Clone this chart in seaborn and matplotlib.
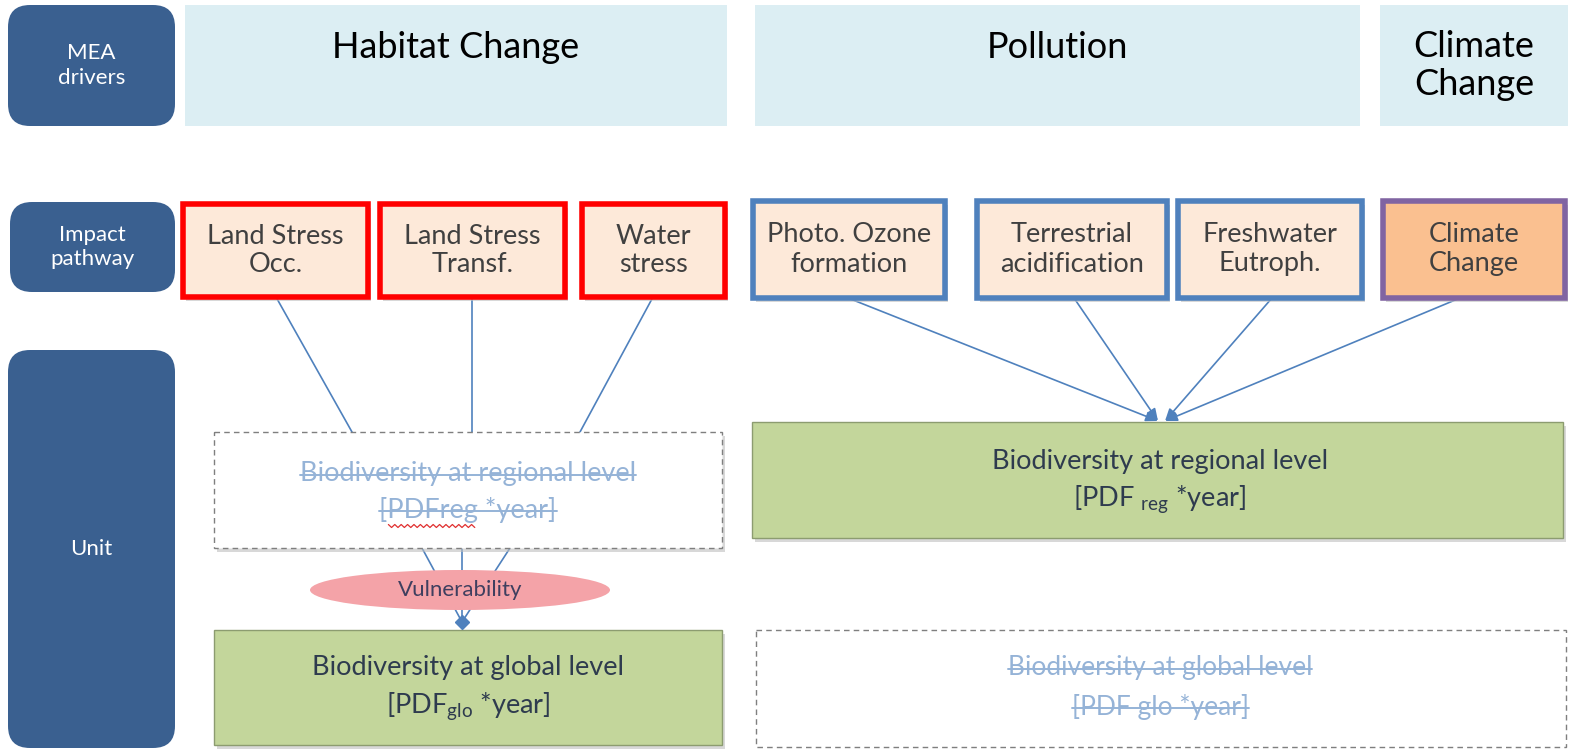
import matplotlib.pyplot as plt
import seaborn as sns
from matplotlib.patches import FancyBboxPatch, Rectangle, Ellipse

sns.set_theme(style="white")
plt.rcParams['font.family'] = ['Lato', 'DejaVu Sans']
plt.rcParams['mathtext.fontset'] = 'custom'
plt.rcParams['mathtext.rm'] = 'Lato'
plt.rcParams['mathtext.it'] = 'Lato'

# Texte
row_labels = ['MEA\ndrivers', 'Impact\npathway', 'Unit']
drivers = ['Habitat Change', 'Pollution', 'Climate\nChange']
habitat_paths = ['Land Stress\nOcc.', 'Land Stress\nTransf.', 'Water\nstress']
pollution_paths = ['Photo. Ozone\nformation', 'Terrestrial\nacidification', 'Freshwater\nEutroph.']
climate_paths = ['Climate\nChange']
unit_title_reg = 'Biodiversity at regional level'
unit_title_glo = 'Biodiversity at global level'
vuln_label = 'Vulnerability'

# Layout (Pixel, y nach unten)
row_boxes = [(8, 5, 167, 121), (10, 202, 165, 90), (8, 350, 167, 398)]
driver_boxes = [(185, 5, 542, 121), (755, 5, 605, 121), (1380, 5, 188, 121)]
habitat_boxes = [(183, 204, 185, 93), (380, 204, 185, 93), (582, 204, 143, 93)]
pollution_boxes = [(753, 201, 192, 97), (977, 201, 190, 97), (1178, 201, 184, 97)]
climate_boxes = [(1383, 201, 182, 97)]

c_dark = '#3A6090'
c_light = '#DCEEF3'
c_peach = '#FDE9D9'
c_orange = '#FAC090'
c_green = '#C3D69B'
c_line = '#4F81BD'
c_strike = '#95B3D7'
c_text = '#2E3B4E'

fig = plt.figure(figsize=(15.73, 7.54), dpi=100)
ax = fig.add_axes([0, 0, 1, 1])
ax.set_xlim(0, 1573)
ax.set_ylim(754, 0)
ax.axis('off')


def box(x, y, w, h, fc, ec='none', lw=0, ls='-', shadow=False, z=2):
    if shadow:
        ax.add_patch(Rectangle((x + 3, y + 4), w, h, fc='#BFBFBF', ec='none', alpha=0.6, zorder=z - 0.1))
    ax.add_patch(Rectangle((x, y), w, h, fc=fc, ec=ec, lw=lw, ls=ls, zorder=z))


def strike_text(x, y, s, size, color):
    t = ax.text(x, y, s, ha='center', va='center', fontsize=size, color=color, zorder=5)
    fig.canvas.draw()
    bb = t.get_window_extent().transformed(ax.transData.inverted())
    ym = (bb.y0 + bb.y1) / 2 + 1
    ax.plot([bb.x0, bb.x1], [ym, ym], color=color, lw=1.4, zorder=6)
    return bb


# linke Zeilenbeschriftungen
for (x, y, w, h), lab in zip(row_boxes, row_labels):
    ax.add_patch(FancyBboxPatch((x, y), w, h, boxstyle='round,pad=0,rounding_size=22',
                                fc=c_dark, ec='none', zorder=2))
    ax.text(x + w / 2, y + h / 2, lab, ha='center', va='center', color='white',
            fontsize=16, linespacing=1.3, zorder=3)

# MEA drivers
for (x, y, w, h), lab in zip(driver_boxes, drivers):
    box(x, y, w, h, c_light)
    ax.text(x + w / 2, y + 42 if '\n' not in lab else y + h / 2, lab, ha='center', va='center',
            fontsize=26, color='black', linespacing=1.2, zorder=3)

# Impact pathways
for boxes, labs, ec, fc in [(habitat_boxes, habitat_paths, '#FF0000', c_peach),
                            (pollution_boxes, pollution_paths, c_line, c_peach),
                            (climate_boxes, climate_paths, '#8064A2', c_orange)]:
    for (x, y, w, h), lab in zip(boxes, labs):
        box(x, y, w, h, fc, ec=ec, lw=4, shadow=True)
        ax.text(x + w / 2, y + h / 2, lab, ha='center', va='center', fontsize=19.5,
                color='#404040', linespacing=1.2, zorder=3)

# Verbindungen Habitat -> regional (durchgestrichen)
for x0, x1 in [(276, 352), (472, 472), (653, 580)]:
    ax.plot([x0, x1], [297, 432], color=c_line, lw=1.2, zorder=1)

# regional (links, gestrichelt)
box(214, 432, 508, 116, 'white', ec='#7F7F7F', lw=1, ls=(0, (4, 3)), shadow=True)
strike_text(468, 474, unit_title_reg, 19.5, c_strike)
bb = strike_text(468, 510, '[PDFreg *year]', 19.5, c_strike)
# rote Wellenlinie unter PDFreg
wx = [bb.x0 + 9 + i * 3.2 for i in range(28)]
wy = [bb.y0 + 3 + (1.5 if i % 2 else -1.5) for i in range(28)]
ax.plot(wx, wy, color='#E03030', lw=0.9, zorder=6)

# regional -> global (links)
for x0 in [422, 462, 510]:
    ax.plot([x0, 462], [548, 622], color=c_line, lw=1.2, zorder=1)
ax.add_patch(Ellipse((460, 590), 300, 40, fc='#F4A3A8', ec='none', zorder=3))
ax.text(460, 590, vuln_label, ha='center', va='center', fontsize=16, color='#3F3F5F', zorder=4)
ax.plot([462], [622], marker='D', ms=7, color=c_line, zorder=4)

# global (links, gruen)
box(214, 630, 508, 115, c_green, ec='#8C9C70', lw=1, shadow=True)
ax.text(468, 667, unit_title_glo, ha='center', va='center', fontsize=19.5, color=c_text, zorder=3)
ax.text(468, 706, r'[PDF$_{\mathrm{glo}}$ *year]', ha='center', va='center', fontsize=19.5,
        color=c_text, zorder=3)

# Pollution/Climate -> regional (rechts)
for (x0, x1) in [(848, 1158), (1074, 1158), (1272, 1165), (1460, 1165)]:
    ax.annotate('', xy=(x1, 421), xytext=(x0, 298),
                arrowprops=dict(arrowstyle='-|>,head_length=0.6,head_width=0.25', color=c_line,
                                lw=1.2, shrinkA=0, shrinkB=0), zorder=1)

box(752, 422, 811, 116, c_green, ec='#8C9C70', lw=1, shadow=True)
ax.text(1160, 462, unit_title_reg, ha='center', va='center', fontsize=19.5, color=c_text, zorder=3)
ax.text(1160, 499, r'[PDF $_{\mathrm{reg}}$ *year]', ha='center', va='center', fontsize=19.5,
        color=c_text, zorder=3)

# global (rechts, gestrichelt)
box(756, 630, 810, 117, 'white', ec='#7F7F7F', lw=1, ls=(0, (4, 3)))
strike_text(1160, 668, unit_title_glo, 19, c_strike)
strike_text(1160, 707, '[PDF glo *year]', 19, c_strike)

plt.savefig('out.png', dpi=100)
